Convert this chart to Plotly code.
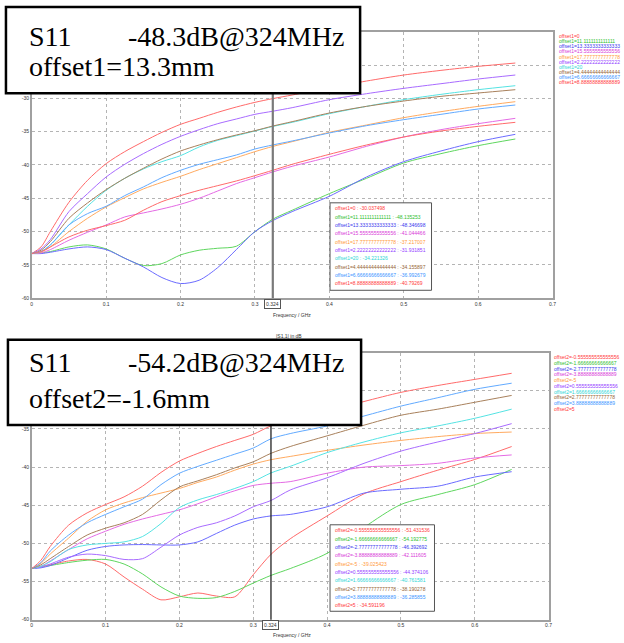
import plotly.graph_objects as go

W, H = 624, 643

freq = [0, 0.0125, 0.025, 0.05, 0.075, 0.1, 0.125, 0.15, 0.175, 0.2, 0.225, 0.25,
        0.275, 0.3, 0.324, 0.35, 0.4, 0.45, 0.5, 0.55, 0.6, 0.65]
marker_freq = 0.324

# ---- top plot: offset1 sweep ----
names1 = ["offset1=0", "offset1=11.1111111111111", "offset1=13.3333333333333",
          "offset1=15.5555555555556", "offset1=17.7777777777778", "offset1=2.22222222222222",
          "offset1=20", "offset1=4.44444444444444", "offset1=6.66666666666667",
          "offset1=8.88888888888889"]
s1_0 = [-53.3, -52.3, -50.0, -45.6, -42.3, -39.8, -38.0, -36.5, -35.1, -33.9, -33.0, -32.1,
        -31.3, -30.6, -30.037498, -29.5, -28.4, -27.4, -26.5, -25.8, -25.2, -24.7]
s1_11 = [-53.3, -53.2, -53.0, -52.3, -52.0, -52.6, -54.0, -55.1, -54.8, -53.5, -52.8, -52.5,
         -52.2, -50.0, -48.135253, -46.8, -44.3, -42.0, -39.7, -38.3, -37.1, -36.1]
s1_13 = [-53.3, -53.3, -53.1, -52.6, -52.3, -52.7, -54.0, -55.3, -56.9, -57.8, -57.3, -55.4,
         -52.7, -50.0, -48.346698, -47.0, -44.7, -41.8, -39.5, -37.9, -36.5, -35.4]
s1_15 = [-53.3, -53.2, -52.7, -51.3, -50.1, -49.0, -47.8, -47.2, -46.6, -45.9, -45.0, -43.9,
         -42.8, -41.9, -41.044466, -40.2, -38.8, -37.2, -35.8, -34.7, -33.8, -33.0]
s1_17 = [-53.3, -53.1, -52.3, -50.0, -48.0, -46.3, -44.9, -43.6, -42.6, -41.7, -40.7, -39.8,
         -38.9, -38.0, -37.217007, -36.5, -35.1, -34.0, -32.9, -32.0, -31.2, -30.5]
s1_2 = [-53.3, -52.6, -51.2, -47.0, -44.3, -41.8, -39.9, -38.3, -36.9, -35.7, -34.7, -33.8,
        -33.1, -32.4, -31.931851, -31.4, -30.2, -29.3, -28.5, -27.8, -27.1, -26.5]
s1_20 = [-53.3, -53.0, -52.0, -49.0, -46.2, -43.8, -42.0, -40.6, -39.5, -38.6, -37.3, -36.3,
         -35.6, -34.9, -34.221326, -33.6, -32.3, -31.2, -30.2, -29.4, -28.7, -28.1]
s1_4 = [-53.3, -52.8, -51.5, -48.0, -45.7, -43.7, -42.0, -40.5, -39.1, -37.9, -37.0, -36.2,
        -35.5, -34.85, -34.155897, -33.5, -32.2, -31.2, -30.4, -29.7, -29.2, -28.7]
s1_6 = [-53.3, -53.0, -52.0, -49.0, -47.3, -46.2, -44.6, -43.3, -41.9, -40.8, -39.9, -39.2,
        -38.5, -37.6, -36.992679, -36.4, -35.2, -34.1, -33.2, -32.4, -31.6, -31.0]
s1_8 = [-53.3, -53.0, -52.3, -50.8, -49.8, -49.1, -48.3, -46.8, -45.5, -44.6, -43.8, -43.1,
        -42.4, -41.6, -40.79269, -39.9, -38.4, -37.0, -35.8, -34.9, -34.2, -33.6]
series1 = [s1_0, s1_11, s1_13, s1_15, s1_17, s1_2, s1_20, s1_4, s1_6, s1_8]

# ---- bottom plot: offset2 sweep ----
names2 = ["offset2=-0.555555555555556", "offset2=-1.66666666666667", "offset2=-2.77777777777778",
          "offset2=-3.88888888888889", "offset2=-5", "offset2=0.555555555555556",
          "offset2=1.66666666666667", "offset2=2.77777777777778", "offset2=3.88888888888889",
          "offset2=5"]
s2_m0556 = [-53.3, -53.0, -52.8, -52.3, -52.1, -52.7, -54.4, -56.0, -57.4, -57.0, -56.5, -56.9,
            -57.0, -54.1, -51.431536, -49.4, -46.4, -43.5, -41.9, -40.4, -39.0, -37.3]
s2_m1667 = [-53.3, -53.1, -52.9, -52.5, -52.2, -52.1, -52.7, -54.0, -55.7, -56.9, -57.2, -57.1,
            -56.3, -55.2, -54.192775, -53.3, -51.3, -47.9, -44.9, -43.6, -42.3, -40.3]
s2_m2778 = [-53.3, -53.2, -52.9, -51.9, -50.9, -50.4, -50.2, -50.15, -50.2, -50.2, -49.8, -48.7,
            -47.6, -46.8, -46.392692, -46.2, -45.2, -43.4, -42.9, -42.5, -41.3, -40.6]
s2_m3889 = [-53.3, -53.0, -52.3, -50.8, -49.4, -48.4, -47.5, -46.8, -46.2, -45.6, -44.8, -43.9,
            -43.1, -42.4, -42.111605, -41.9, -40.8, -40.0, -39.8, -39.5, -38.8, -38.4]
s2_m5 = [-53.3, -52.6, -51.4, -49.3, -47.1, -45.6, -44.7, -44.0, -43.4, -42.8, -42.0, -41.3,
         -40.4, -39.6, -39.025423, -38.6, -37.8, -37.1, -36.5, -36.0, -35.6, -35.4]
s2_0556 = [-53.3, -53.1, -52.7, -51.8, -51.4, -51.6, -52.1, -52.0, -50.5, -48.9, -47.9, -47.3,
           -46.4, -45.2, -44.374106, -43.0, -41.4, -39.5, -37.9, -36.7, -35.6, -34.3]
s2_1667 = [-53.3, -53.0, -52.4, -50.8, -50.2, -50.0, -49.8, -49.1, -47.4, -45.3, -44.3, -43.6,
           -42.8, -41.9, -40.761581, -39.9, -38.1, -36.7, -35.5, -34.6, -33.6, -32.4]
s2_2778 = [-53.3, -52.8, -52.0, -50.4, -48.9, -48.0, -47.3, -46.2, -44.3, -42.6, -41.8, -41.0,
           -40.1, -39.3, -38.190278, -37.3, -35.9, -34.5, -33.2, -32.4, -31.5, -30.6]
s2_3889 = [-53.3, -52.5, -51.0, -48.9, -47.3, -46.2, -45.2, -44.2, -42.3, -40.8, -39.9, -39.1,
           -38.3, -37.5, -36.285855, -35.6, -34.6, -33.3, -32.0, -30.9, -29.8, -29.0]
s2_5 = [-53.3, -52.2, -50.4, -47.6, -46.0, -44.9, -43.9, -42.5, -40.7, -39.2, -38.2, -37.3,
        -36.5, -35.7, -34.591196, -33.9, -32.7, -31.4, -30.2, -29.3, -28.5, -27.7]
series2 = [s2_m0556, s2_m1667, s2_m2778, s2_m3889, s2_m5, s2_0556, s2_1667, s2_2778, s2_3889, s2_5]

line_colors = ["#ff6a6a", "#5fd65f", "#6b6bff", "#e46ae4", "#ffaa60",
               "#a86bff", "#55e3e3", "#a8805c", "#62aaff", "#ff6a6a"]
text_colors = ["#ff3b3b", "#30c030", "#3a3aee", "#d83ad8", "#ff9a3a",
               "#9440ff", "#2ed6d6", "#946434", "#3a94ff", "#ff3b3b"]

xticks = [0, 0.1, 0.2, 0.3, 0.4, 0.5, 0.6, 0.7]
xticklabels = ["0", "0.1", "0.2", "0.3", "0.4", "0.5", "0.6", "0.7"]
yticks = [-60, -55, -50, -45, -40, -35, -30, -25, -20]
yticklabels = ["-60", "-55", "-50", "-45", "-40", "-35", "-30", "-25", "-20"]

box1_lines = ["S11", "-48.3dB@324MHz", "offset1=13.3mm"]
box2_lines = ["S11", "-54.2dB@324MHz", "offset2=-1.6mm"]
x_title = "Frequency / GHz"
y_title = "|S1,1| in dB"


def px(x):
    return x / W


def py(y):
    return 1 - y / H


fig = go.Figure()
for names, series, xa, ya in [(names1, series1, "x", "y"), (names2, series2, "x2", "y2")]:
    for i, (n, s) in enumerate(zip(names, series)):
        fig.add_trace(go.Scatter(x=freq, y=s, name=n, mode="lines", xaxis=xa, yaxis=ya,
                                 line=dict(color=line_colors[i], width=1, shape="spline",
                                           smoothing=0.8),
                                 showlegend=False))

axis_common = dict(showline=True, mirror=True, linecolor="#a0a0a0", linewidth=1.5,
                   showgrid=True, gridcolor="#b4b4b4", griddash="dot", gridwidth=1,
                   zeroline=False, ticks="", tickfont=dict(size=5, color="#333",
                                                          family="Liberation Sans"))
fig.update_layout(
    width=W, height=H, margin=dict(l=0, r=0, t=0, b=0),
    paper_bgcolor="white", plot_bgcolor="white",
    xaxis=dict(domain=[px(31), px(556)], range=[0, 0.7], anchor="y",
               tickvals=xticks, ticktext=xticklabels, **axis_common),
    yaxis=dict(domain=[py(298), py(29)], range=[-60, -20], anchor="x",
               tickvals=yticks, ticktext=yticklabels, **axis_common),
    xaxis2=dict(domain=[px(31), px(552)], range=[0, 0.7], anchor="y2",
                tickvals=xticks, ticktext=xticklabels, **axis_common),
    yaxis2=dict(domain=[py(622.5), py(353)], range=[-60, -25], anchor="x2",
                tickvals=yticks, ticktext=yticklabels, **axis_common),
)

shapes = []
annotations = []
small = dict(size=5, family="Liberation Sans")

panels = [
    dict(xa="x", ya="y", names=names1, series=series1, box=box1_lines,
         leg_x=560, leg_y0=33.3, leg_dy=5.2,
         mk=(331.7, 434, 201.7, 290), mk_y0=207.3, mk_dy=8.4,
         tb=(5, 362, 4, 91), r1=34, r2=64, mline="#7a7a7a", mlw=2.2,
         xlab_y=304, xt_y=315, yt_y=None),
    dict(xa="x2", ya="y2", names=names2, series=series2, box=box2_lines,
         leg_x=555, leg_y0=357.7, leg_dy=5.75,
         mk=(331.7, 437, 526.7, 614), mk_y0=532.3, mk_dy=8.4,
         tb=(7, 363, 340, 426), r1=363, r2=399, mline="#222", mlw=1.3,
         xlab_y=628, xt_y=638, yt_y=336),
]
idx = freq.index(marker_freq)
for p in panels:
    # marker line
    shapes.append(dict(type="line", xref=p["xa"], yref=p["ya"] + " domain",
                       x0=marker_freq, x1=marker_freq, y0=0, y1=1,
                       line=dict(color=p["mline"], width=p["mlw"]), layer="above"))
    # marker box
    x0, x1, y0, y1 = p["mk"]
    shapes.append(dict(type="rect", xref="paper", yref="paper",
                       x0=px(x0), x1=px(x1), y0=py(y1), y1=py(y0),
                       fillcolor="white", line=dict(color="#555", width=1), layer="above"))
    for i, (n, s) in enumerate(zip(p["names"], p["series"])):
        v = f"{s[idx]:.6f}".rstrip("0")
        annotations.append(dict(xref="paper", yref="paper", x=px(x0 + 2.6),
                                y=py(p["mk_y0"] + i * p["mk_dy"]), xanchor="left",
                                yanchor="middle", showarrow=False, text=f"{n} : {v}",
                                font=dict(color=text_colors[i], **small)))
        # legend text
        annotations.append(dict(xref="paper", yref="paper", x=px(p["leg_x"]),
                                y=py(p["leg_y0"] + i * p["leg_dy"]), xanchor="left",
                                yanchor="middle", showarrow=False, text=n,
                                font=dict(color=text_colors[i], **small)))
    # x marker label
    annotations.append(dict(xref=p["xa"], yref="paper", x=marker_freq, y=py(p["xlab_y"]),
                            xanchor="center", yanchor="middle", showarrow=False,
                            text=str(marker_freq), bgcolor="white", bordercolor="#555",
                            borderwidth=1, borderpad=1, font=dict(color="#333", **small)))
    annotations.append(dict(xref="paper", yref="paper", x=px(293), y=py(p["xt_y"]),
                            xanchor="center", yanchor="middle", showarrow=False,
                            text=x_title, font=dict(color="#333", **small)))
    if p["yt_y"] is not None:
        annotations.append(dict(xref="paper", yref="paper", x=px(290), y=py(p["yt_y"]),
                                xanchor="center", yanchor="middle", showarrow=False,
                                text=y_title, font=dict(color="#333", **small)))
    # big text box
    bx0, bx1, by0, by1 = p["tb"]
    shapes.append(dict(type="rect", xref="paper", yref="paper",
                       x0=px(bx0), x1=px(bx1), y0=py(by1), y1=py(by0),
                       fillcolor="white", line=dict(color="black", width=2.5), layer="above"))
    big = dict(size=28, family="Liberation Serif", color="black")
    annotations.append(dict(xref="paper", yref="paper", x=px(26), y=py(p["r1"]),
                            xanchor="left", yanchor="middle", showarrow=False,
                            text=p["box"][0], font=big))
    annotations.append(dict(xref="paper", yref="paper", x=px(126), y=py(p["r1"]),
                            xanchor="left", yanchor="middle", showarrow=False,
                            text=p["box"][1], font=big))
    annotations.append(dict(xref="paper", yref="paper", x=px(26), y=py(p["r2"]),
                            xanchor="left", yanchor="middle", showarrow=False,
                            text=p["box"][2], font=big))

fig.update_layout(shapes=shapes, annotations=annotations)
fig.write_html("out.html", config={"displayModeBar": False},
               post_script="document.body.style.margin='0px';document.body.style.overflow='hidden';")
